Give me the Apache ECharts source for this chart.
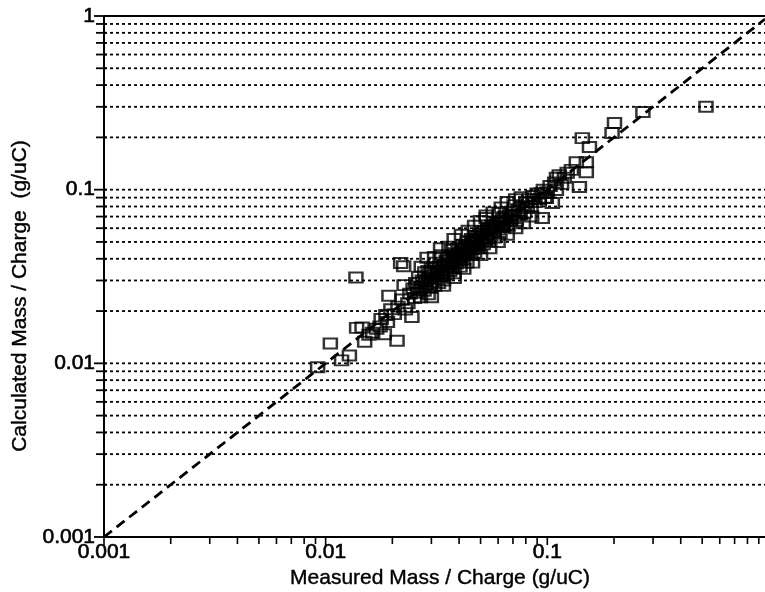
<!DOCTYPE html>
<html>
<head>
<meta charset="utf-8">
<script src="https://cdn.jsdelivr.net/npm/echarts@6/dist/echarts.min.js"></script>
<style>
html,body{margin:0;padding:0;background:#fff;}
#chart{width:765px;height:592px;}
</style>
</head>
<body>
<div id="chart"></div>
<script>
// Measured mass/charge (g/uC)
const measured = [
0.0092,0.0105,0.0118,0.0128,0.0137,0.0138,0.0146,0.0150,0.0157,0.0163,0.0170,0.0176,0.0178,0.0184,0.0187,0.0190,0.0193,0.0197,0.0210,0.0204,0.0212,0.0218,0.0225,0.0226,0.0221,0.0229,0.0235,0.0245,0.0240,0.0248,0.0252,
0.0255,0.0260,0.0263,0.0268,0.0270,0.0273,0.0278,0.0280,0.0284,0.0287,0.0290,0.0292,0.0296,0.0300,0.0302,0.0306,0.0310,0.0313,0.0316,0.0320,0.0323,0.0327,0.0330,0.0334,0.0336,0.0340,0.0343,0.0347,
0.0350,0.0353,0.0356,0.0360,0.0363,0.0367,0.0370,0.0373,0.0377,0.0380,0.0384,0.0388,0.0392,0.0396,0.0400,0.0404,0.0408,0.0412,0.0416,0.0420,0.0425,0.0430,0.0434,0.0438,0.0442,0.0447,
0.0452,0.0456,0.0460,0.0466,0.0470,0.0475,0.0480,0.0486,0.0490,0.0496,0.0502,0.0508,0.0514,0.0520,0.0527,0.0530,0.0535,0.0542,0.0550,0.0556,0.0563,0.0570,0.0577,0.0585,0.0592,0.0600,
0.0607,0.0612,0.0620,0.0628,0.0636,0.0645,0.0655,0.0665,0.0675,0.0685,0.0695,0.0709,0.0712,0.0725,0.0740,0.0755,0.0763,0.0775,0.0790,0.0800,
0.0812,0.0830,0.0845,0.0860,0.0880,0.0900,0.0920,0.0940,0.0949,0.0960,0.0975,0.0990,0.1000,
0.1030,0.1054,0.1080,0.1099,0.1100,0.1133,0.1160,0.1194,0.1230,0.1285,0.1352,0.1396,0.1439,0.1500,0.1500,0.1550,
0.196,0.201,0.270,0.520,
0.0270,0.0290,0.0310,0.0330,0.0360,0.0380,0.0410,0.0440,0.0470,0.0500,0.0530,0.0570,0.0620,0.0660,0.0720,
0.0300,0.0340,0.0380,0.0420,0.0460,0.0500,0.0550,0.0600,0.0660,0.0720,0.0780,0.0850,
0.0265,0.0282,0.0298,0.0318,0.0338,0.0358,0.0378,0.0398,0.0418,0.0440,0.0463,0.0485,0.0510,0.0540,0.0575,0.0610
];
// Calculated mass/charge (g/uC)
const calculated = [
0.0095,0.0130,0.0104,0.0111,0.0312,0.0160,0.0161,0.0133,0.0146,0.0150,0.0158,0.0163,0.0180,0.0147,0.0190,0.0173,0.0245,0.0205,0.0135,0.0192,0.0212,0.0378,0.0362,0.0282,0.0233,0.0204,0.0222,0.0185,0.0252,0.0270,0.0238,
0.0290,0.0255,0.0315,0.0240,0.0275,0.0300,0.0262,0.0335,0.0285,0.0405,0.0250,0.0310,0.0272,0.0350,0.0295,0.0320,0.0280,0.0380,0.0305,0.0340,0.0290,0.0360,0.0315,0.0420,0.0330,0.0300,0.0370,0.0345,
0.0390,0.0325,0.0360,0.0410,0.0340,0.0380,0.0450,0.0355,0.0400,0.0330,0.0430,0.0375,0.0415,0.0460,0.0390,0.0360,0.0440,0.0410,0.0480,0.0395,0.0455,0.0425,0.0380,0.0500,0.0445,0.0470,
0.0420,0.0520,0.0455,0.0490,0.0430,0.0540,0.0475,0.0510,0.0460,0.0560,0.0500,0.0530,0.0485,0.0580,0.0520,0.0687,0.0555,0.0505,0.0600,0.0545,0.0625,0.0575,0.0530,0.0610,0.0650,0.0590,
0.0733,0.0560,0.0640,0.0680,0.0610,0.0700,0.0660,0.0620,0.0720,0.0680,0.0750,0.0815,0.0700,0.0660,0.0760,0.0720,0.0906,0.0800,0.0740,0.0850,
0.0783,0.0880,0.0800,0.0920,0.0850,0.0950,0.0880,0.0955,0.0687,0.1000,0.0900,0.0895,0.0968,
0.1050,0.0837,0.1100,0.0995,0.1170,0.1210,0.1080,0.1170,0.1250,0.1300,0.1440,0.1035,0.1980,0.1440,0.1260,0.1760,
0.212,0.242,0.280,0.300,
0.0360,0.0340,0.0410,0.0460,0.0470,0.0520,0.0550,0.0580,0.0620,0.0660,0.0710,0.0740,0.0790,0.0850,0.0880,
0.0240,0.0280,0.0310,0.0350,0.0380,0.0420,0.0460,0.0500,0.0550,0.0600,0.0640,0.0700,
0.0265,0.0300,0.0330,0.0330,0.0355,0.0375,0.0420,0.0425,0.0440,0.0470,0.0500,0.0540,0.0560,0.0590,0.0620,0.0660
];
// Axes
const xMin = 0.001, xMax = 0.96;
const yMin = 0.001, yMax = 1;
const xTickLabels = ['0.001', '0.01', '0.1'];
const yTickLabels = ['0.001', '0.01', '0.1', '1'];
const xTicks = [0.001,0.002,0.003,0.004,0.005,0.006,0.007,0.008,0.009,0.01,0.02,0.03,0.04,0.05,0.06,0.07,0.08,0.09,0.1,0.2,0.3,0.4,0.5,0.6,0.7,0.8,0.9];
const yTicks = [0.002,0.003,0.004,0.005,0.006,0.007,0.008,0.009,0.01,0.02,0.03,0.04,0.05,0.06,0.07,0.08,0.09,0.1,0.2,0.3,0.4,0.5,0.6,0.7,0.8,0.9,1];
const diagonal = [0.001, 0.96];
const xTitle = 'Measured Mass / Charge (g/uC)';
const yTitle = 'Calculated Mass / Charge  (g/uC)';

const FONT = '"Liberation Sans", Arial, Helvetica, sans-serif';
const isDecade = v => Math.abs(Math.log10(v) - Math.round(Math.log10(v))) < 1e-6;

const chart = echarts.init(document.getElementById('chart'), null, {renderer: 'canvas'});
const points = measured.map((m, i) => [m, calculated[i]]);
const heavy = {textBorderColor: '#000', textBorderWidth: 0.6};

chart.setOption({
  animation: false,
  backgroundColor: '#fff',
  grid: {left: 104, right: 0, top: 16, bottom: 55},
  xAxis: {
    type: 'log', logBase: 10, min: xMin, max: xMax,
    axisLine: {lineStyle: {color: '#000', width: 2}},
    axisTick: {show: false},
    splitLine: {show: false},
    axisLabel: Object.assign({
      color: '#000', fontSize: 21, fontFamily: FONT, margin: 5,
      showMaxLabel: false,
      formatter: v => isDecade(v) ? (xTickLabels[Math.round(Math.log10(v)) + 3] || '') : ''
    }, heavy)
  },
  yAxis: {
    type: 'log', logBase: 10, min: yMin, max: yMax,
    axisLine: {lineStyle: {color: '#000', width: 2}},
    axisTick: {show: false},
    splitLine: {show: false},
    axisLabel: Object.assign({
      color: '#000', fontSize: 21, fontFamily: FONT, margin: 9,
      formatter: v => isDecade(v) ? (yTickLabels[Math.round(Math.log10(v)) + 3] || '') : ''
    }, heavy)
  },
  graphic: [
    {type: 'text', x: 440, y: 578, style: {text: xTitle, font: '21px ' + FONT, fill: '#000', stroke: '#000', lineWidth: 0.4, textAlign: 'center', textVerticalAlign: 'middle'}},
    {type: 'text', x: 20, y: 296, rotation: Math.PI / 2, style: {text: yTitle, font: '21px ' + FONT, fill: '#000', stroke: '#000', lineWidth: 0.4, textAlign: 'center', textVerticalAlign: 'middle'}}
  ],
  series: [
    {
      type: 'custom', coordinateSystem: 'cartesian2d', clip: false, silent: true, z: 1,
      data: yTicks.map(v => [xMin, v]),
      renderItem: (params, api) => {
        const v = api.value(1);
        const p = api.coord([api.value(0), v]);
        const cs = params.coordSys;
        const solid = v >= 1;
        return {type: 'line', shape: {x1: p[0], y1: p[1], x2: cs.x + cs.width, y2: p[1]},
          style: {stroke: '#000', lineWidth: solid ? 2.2 : 1.8, lineDash: solid ? null : [3, 3]}};
      }
    },
    {
      type: 'custom', coordinateSystem: 'cartesian2d', clip: false, silent: true, z: 3,
      data: yTicks.concat([0.001]).map(v => [xMin, v]),
      renderItem: (params, api) => {
        const v = api.value(1);
        const p = api.coord([api.value(0), v]);
        const len = isDecade(v) ? 10 : 8;
        return {type: 'line', shape: {x1: p[0] - len, y1: p[1], x2: p[0] + 3, y2: p[1]},
          style: {stroke: '#000', lineWidth: 1.8}};
      }
    },
    {
      type: 'custom', coordinateSystem: 'cartesian2d', clip: false, silent: true, z: 3,
      data: xTicks.map(v => [v, yMin]),
      renderItem: (params, api) => {
        const v = api.value(0);
        const p = api.coord([v, api.value(1)]);
        const len = isDecade(v) ? 8 : 7;
        return {type: 'line', shape: {x1: p[0], y1: p[1], x2: p[0], y2: p[1] + len},
          style: {stroke: '#000', lineWidth: 1.6}};
      }
    },
    {
      type: 'line', z: 2, symbol: 'none', silent: true,
      data: [[diagonal[0], diagonal[0]], [diagonal[1], diagonal[1]]],
      lineStyle: {color: '#000', width: 2.8, type: [10, 6]}
    },
    {
      type: 'scatter', z: 4, symbol: 'rect', symbolSize: [13, 10],
      data: points,
      itemStyle: {color: 'rgba(255,255,255,0)', borderColor: '#000', borderWidth: 2.2}
    }
  ]
});
</script>
</body>
</html>
